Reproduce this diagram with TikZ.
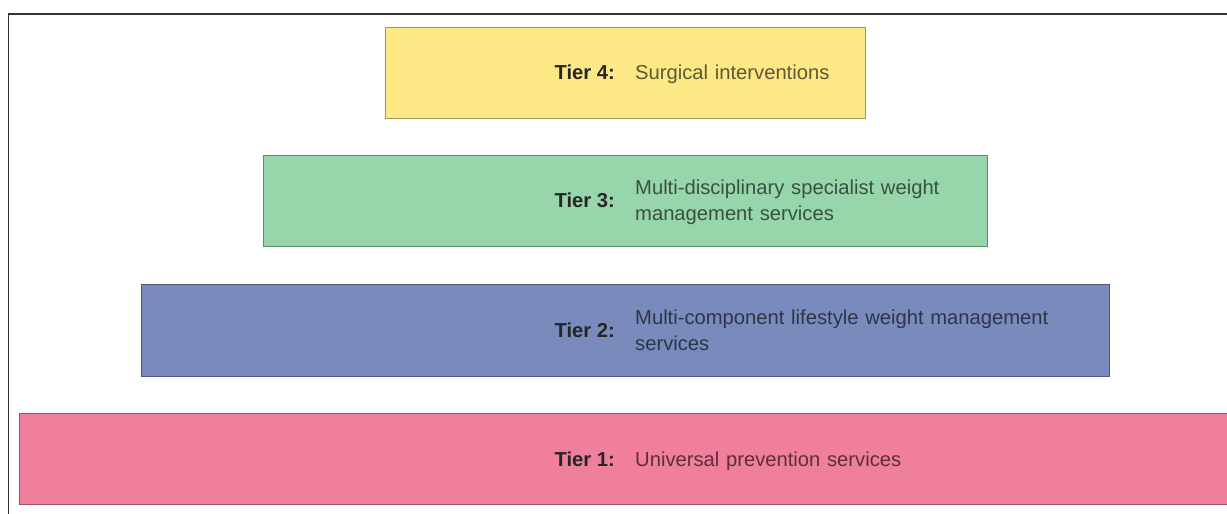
\documentclass[tikz,border=0pt]{standalone}
\usepackage{fontspec}
\setmainfont{Liberation Sans}
\definecolor{tyellow}{RGB}{253,232,134}
\definecolor{tgreen}{RGB}{151,214,170}
\definecolor{tblue}{RGB}{121,139,189}
\definecolor{tpink}{RGB}{239,127,156}
\begin{document}
\begin{tikzpicture}[x=1pt,y=-1pt,
  tierbox/.style={draw=#1!65!black, fill=#1, line width=0.9pt},
  tierlabel/.style={anchor=base east, inner sep=0pt, font=\fontsize{20.2}{26}\selectfont\bfseries, text=black!85},
  tierdesc/.style={anchor=base west, inner sep=0pt, text width=460pt, align=left, font=\fontsize{20.2}{26}\selectfont, text=#1!38!black},
  frameline/.style={draw=black!80, line width=1.3pt}]
\useasboundingbox (0,0) rectangle (1227,514);
\fill[white] (0,0) rectangle (1227,514);
% outer frame
\coordinate (fb) at (8.5,530);
\coordinate (fc) at (8.5,14);
\coordinate (fr) at (1240,14);
\draw[frameline] (fb) -- (fc) -- (fr);
% boxes
\draw[tierbox=tyellow] (385,27) rectangle (865,118);
\draw[tierbox=tgreen] (263,155) rectangle (987,246);
\draw[tierbox=tblue] (141,284) rectangle (1109,376);
\draw[tierbox=tpink] (19,413) rectangle (1245,504);
% texts
\node[tierlabel] (l4) at (615,79.5) {Tier 4:};
\node[tierdesc=tyellow] (d4) at (635,79.5) {Surgical interventions};
\node[tierlabel] (l3) at (615,207.5) {Tier 3:};
\node[tierdesc=tgreen] (d3) at (635,194.5) {Multi-disciplinary specialist weight\\management services};
\node[tierlabel] (l2) at (615,337) {Tier 2:};
\node[tierdesc=tblue] (d2) at (635,324) {Multi-component lifestyle weight management\\services};
\node[tierlabel] (l1) at (615,466) {Tier 1:};
\node[tierdesc=tpink] (d1) at (635,466) {Universal prevention services};
\end{tikzpicture}
\end{document}
